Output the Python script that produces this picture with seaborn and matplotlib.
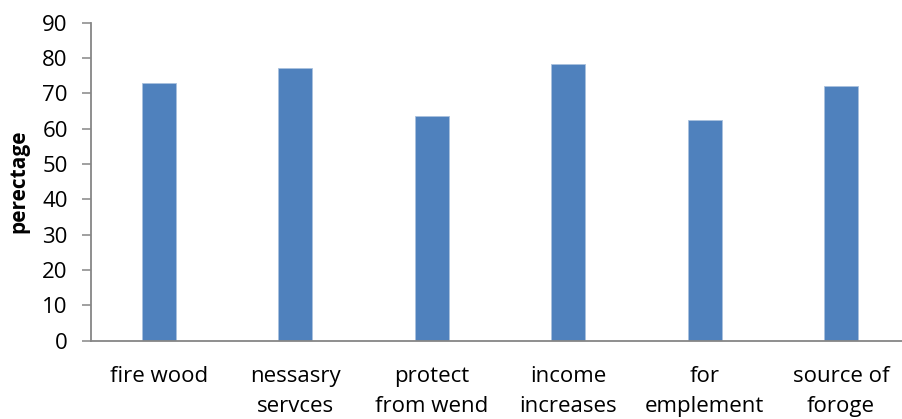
import matplotlib
matplotlib.use("Agg")
import matplotlib.pyplot as plt
import seaborn as sns
import pandas as pd

categories = ["fire wood", "nessasry\nservces", "protect\nfrom wend",
              "income\nincreases", "for\nemplement", "source of\nforoge"]
values = [73.0, 77.1, 63.5, 78.2, 62.6, 72.0]
yticks = [0, 10, 20, 30, 40, 50, 60, 70, 80, 90]

sns.set_theme(style="white")
plt.rcParams["font.family"] = ["Open Sans", "DejaVu Sans"]
plt.rcParams["text.color"] = "black"
plt.rcParams["axes.labelcolor"] = "black"

df = pd.DataFrame({"use": categories, "perectage": values})

fig = plt.figure(figsize=(9.02, 4.19), dpi=100)
ax = fig.add_axes([0.1006, 0.1869, 0.9075, 0.7589])

sns.barplot(data=df, x="use", y="perectage", ax=ax, color="#4F81BD",
            saturation=1, width=0.25, edgecolor="#A9C1DE", linewidth=0.6)

axis_gray = "#868686"
ax.set_xlim(-0.5, 5.5)
ax.set_ylim(0, 90)
ax.set_yticks(yticks)
ax.set_yticklabels([str(t) for t in yticks])
for side in ["top", "right"]:
    ax.spines[side].set_visible(False)
for side in ["left", "bottom"]:
    ax.spines[side].set_color(axis_gray)
    ax.spines[side].set_linewidth(1.3)

ax.tick_params(axis="y", direction="out", length=6.5, width=1.1,
               color=axis_gray, labelsize=16, pad=10, left=True,
               labelcolor="black")
ax.tick_params(axis="x", length=0, labelsize=16, pad=18, labelcolor="black")
for lbl in ax.get_xticklabels():
    lbl.set_linespacing(1.6)
    lbl.set_verticalalignment("top")

ax.set_xlabel("")
ax.set_ylabel("perectage", fontsize=15, fontweight="bold", labelpad=9,
              color="black")
ax.grid(False)

fig.savefig("out.png", dpi=100)
